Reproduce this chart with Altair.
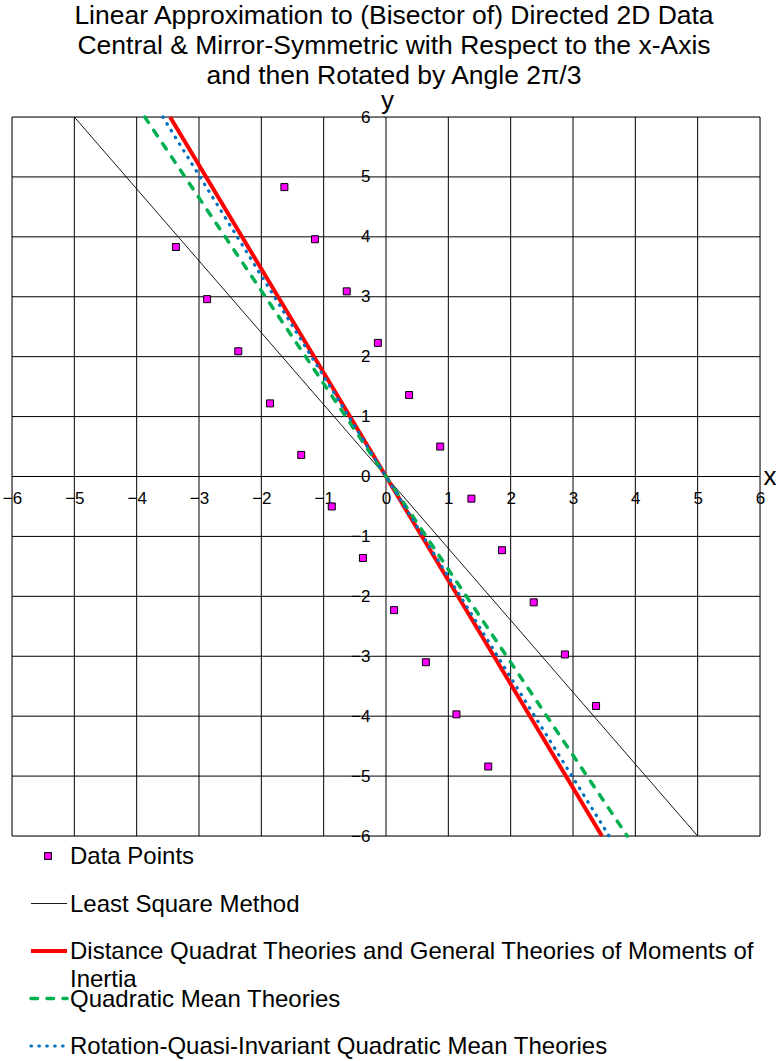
import textwrap

import altair as alt
import pandas as pd

# ---- data -------------------------------------------------------------
series_names = [
    "Data Points",
    "Least Square Method",
    "Distance Quadrat Theories and General Theories of Moments of Inertia",
    "Quadratic Mean Theories",
    "Rotation-Quasi-Invariant Quadratic Mean Theories",
]

# directed 2D data (central symmetric point pairs)
point_x = [-3.37, -2.87, -2.37, -1.86, -1.36, -0.87, -1.63, -1.14, -0.63, -0.13, 0.37,
           0.87, 1.37, 1.86, 2.37, 2.87, 3.37, -0.37, 0.13, 0.64, 1.13, 1.64]
point_y = [3.83, 2.96, 2.09, 1.22, 0.36, -0.50, 4.83, 3.96, 3.09, 2.23, 1.36,
           0.50, -0.37, -1.23, -2.10, -2.97, -3.83, -1.36, -2.23, -3.10, -3.97, -4.84]

# approximating lines through the origin, given by their end points
line_y_ends = [6.0, -6.0]
line_x_ends = {
    "Least Square Method": [-5.0, 5.0],
    "Distance Quadrat Theories and General Theories of Moments of Inertia": [-3.464, 3.464],
    "Quadratic Mean Theories": [-3.87, 3.87],
    "Rotation-Quasi-Invariant Quadratic Mean Theories": [-3.58, 3.58],
}

tick_values = [-6, -5, -4, -3, -2, -1, 0, 1, 2, 3, 4, 5, 6]

title_lines = [
    "Linear Approximation to (Bisector of) Directed 2D Data",
    "Central & Mirror-Symmetric with Respect to the x-Axis",
    "and then Rotated by Angle 2\u03c0/3",
]

# ---- styling ----------------------------------------------------------
FONT = "Liberation Sans"
W, H = 748, 719

line_styles = {
    "Least Square Method": dict(color="#000000", strokeWidth=0.9),
    "Distance Quadrat Theories and General Theories of Moments of Inertia":
        dict(color="#FF0000", strokeWidth=4),
    "Quadratic Mean Theories":
        dict(color="#00B050", strokeWidth=3.5, strokeDash=[6.5, 9.5], strokeCap="round"),
    "Rotation-Quasi-Invariant Quadratic Mean Theories":
        dict(color="#0070C0", strokeWidth=3.2, strokeDash=[0.5, 7.4], strokeCap="round"),
}

xscale = alt.Scale(domain=[-6, 6], nice=False, zero=False)
yscale = alt.Scale(domain=[-6, 6], nice=False, zero=False)

x_axis = alt.Axis(
    title="x", titleAngle=0, titleX=751, titleY=8, titleAlign="left",
    titleBaseline="alphabetic", titleFontSize=26, titleFontWeight="normal",
    titleFont=FONT, titleColor="black",
    values=tick_values, format="d", labelFont=FONT, labelFontSize=17,
    labelColor="black", labelAlign="center", labelBaseline="top",
    labelPadding=14, labelFlush=False, labelOverlap=False,
    ticks=False, tickSize=0, domain=False, grid=False, offset=-H / 2,
)
y_axis = alt.Axis(
    title="y", titleAngle=0, titleX=1, titleY=-9, titleAlign="center",
    titleBaseline="alphabetic", titleFontSize=26, titleFontWeight="normal",
    titleFont=FONT, titleColor="black",
    values=tick_values, format="d", labelFont=FONT, labelFontSize=17,
    labelColor="black", labelAlign="right", labelBaseline="middle",
    labelPadding=16, labelFlush=False, labelOverlap=False,
    ticks=False, tickSize=0, domain=False, grid=False, offset=-W / 2,
)


def X(field):
    return alt.X(field, scale=xscale, axis=x_axis)


def Y(field):
    return alt.Y(field, scale=yscale, axis=y_axis)


ticks_df = pd.DataFrame({"t": tick_values})

grid_v = alt.Chart(ticks_df).mark_rule(color="black", strokeWidth=1).encode(x=X("t:Q"))
grid_h = alt.Chart(ticks_df).mark_rule(color="black", strokeWidth=1).encode(y=Y("t:Q"))

points_df = pd.DataFrame({"x": point_x, "y": point_y})
points = alt.Chart(points_df).mark_square(
    size=49, filled=True, fill="#FF00FF", stroke="#000000", strokeWidth=1, opacity=1
).encode(x=X("x:Q"), y=Y("y:Q"))

line_layers = []
for name, xs in line_x_ends.items():
    df = pd.DataFrame({"x": xs, "y": line_y_ends})
    line_layers.append(
        alt.Chart(df).mark_line(**line_styles[name]).encode(x=X("x:Q"), y=Y("y:Q"))
    )

main = alt.layer(grid_v, grid_h, *line_layers, points)

# ---- legend below the plot --------------------------------------------
legend_df = pd.DataFrame({
    "series": series_names,
    "label": ["\n".join(textwrap.wrap(s, 60)) for s in series_names],
})
LY = alt.Y(
    "series:N",
    scale=alt.Scale(type="point", domain=series_names, range=[739, 929], padding=0),
    axis=None,
)
base_leg = alt.Chart(legend_df)

leg_layers = [
    base_leg.transform_filter(alt.datum.series == series_names[0]).mark_square(
        size=49, filled=True, fill="#FF00FF", stroke="#000000", strokeWidth=1, opacity=1
    ).encode(x=alt.value(36), y=LY)
]
for name in series_names[1:]:
    leg_layers.append(
        base_leg.transform_filter(alt.datum.series == name)
        .mark_rule(**line_styles[name])
        .encode(x=alt.value(19), x2=alt.value(55), y=LY)
    )
leg_layers.append(
    base_leg.mark_text(
        align="left", baseline="alphabetic", dy=8, font=FONT, fontSize=24,
        lineBreak="\n", lineHeight=28, color="black",
    ).encode(x=alt.value(58), y=LY, text="label:N")
)
legend = alt.layer(*leg_layers)

chart = (
    alt.layer(main, legend)
    .resolve_scale(y="independent")
    .properties(
        width=W,
        height=H,
        padding={"left": 12, "top": 117, "right": 16, "bottom": 225},
        autosize=alt.AutoSizeParams(type="none"),
        title=alt.TitleParams(
            text=title_lines, font=FONT, fontSize=26.5, fontWeight="normal",
            color="black", lineHeight=30, anchor="middle", dx=8, offset=-2,
        ),
    )
    .configure_view(stroke="black", strokeWidth=1)
    .configure(background="white")
)

chart.save("out.html", embed_options={"renderer": "svg", "actions": False})
